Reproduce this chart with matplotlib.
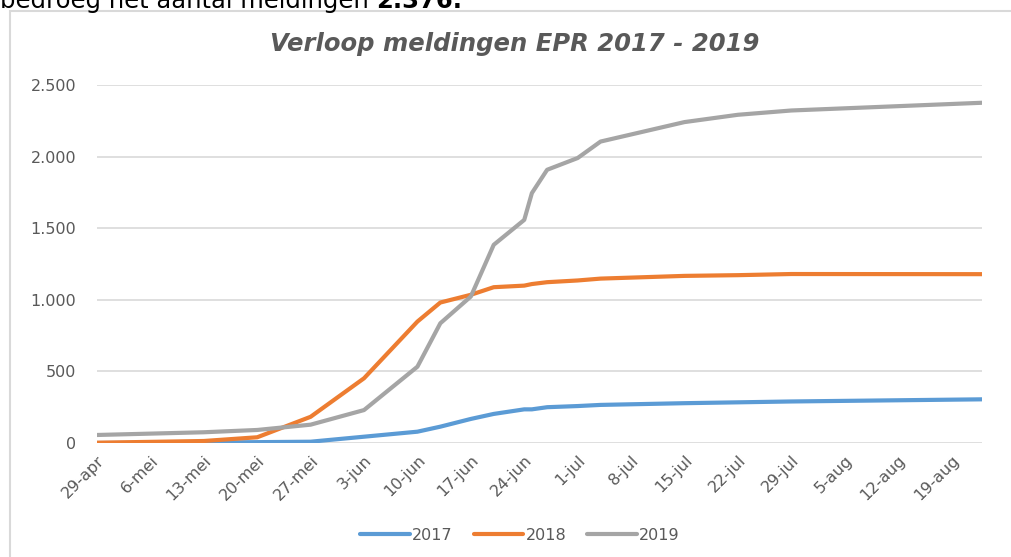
import numpy as np
import pandas as pd
import matplotlib
matplotlib.use('Agg')
import matplotlib.pyplot as plt

plt.rcParams['font.family'] = ['DejaVu Sans']

# Data
datums = ['2019-04-29', '2019-05-13', '2019-05-20', '2019-05-27', '2019-06-03',
          '2019-06-10', '2019-06-13', '2019-06-17', '2019-06-20', '2019-06-24',
          '2019-06-25', '2019-06-27', '2019-07-01', '2019-07-04', '2019-07-15',
          '2019-07-22', '2019-07-29', '2019-08-23']
m2017 = [0, 3, 6, 9, 44, 79, 114, 168, 203, 235, 235, 250, 258, 266, 278, 284, 290, 305]
m2018 = [2, 14, 40, 183, 452, 848, 981, 1035, 1088, 1099, 1110, 1123, 1135, 1148, 1167, 1172, 1180, 1179]
m2019 = [56, 75, 91, 128, 230, 533, 836, 1023, 1384, 1558, 1745, 1908, 1990, 2105, 2241, 2292, 2322, 2376]

tick_labels = ['29-apr', '6-mei', '13-mei', '20-mei', '27-mei', '3-jun', '10-jun', '17-jun',
               '24-jun', '1-jul', '8-jul', '15-jul', '22-jul', '29-jul', '5-aug', '12-aug', '19-aug']
y_ticks = [0, 500, 1000, 1500, 2000, 2500]
y_labels = ['0', '500', '1.000', '1.500', '2.000', '2.500']

x = pd.to_datetime(datums)
tick_pos = pd.date_range('2019-04-29', periods=len(tick_labels), freq='7D')

txt = '#595959'
grid = '#d9d9d9'

fig = plt.figure(figsize=(10.11, 5.57), dpi=100)
ax = fig.add_axes([97/1011, 1-443/557, (982-97)/1011, (443-85)/557])

ax.plot(x, m2017, color='#5B9BD5', lw=3, label='2017', solid_capstyle='round')
ax.plot(x, m2018, color='#ED7D31', lw=3, label='2018', solid_capstyle='round')
ax.plot(x, m2019, color='#A5A5A5', lw=3, label='2019', solid_capstyle='round')

ax.set_xlim(x[0], x[-1])
ax.set_ylim(0, 2500)
ax.set_yticks(y_ticks)
ax.set_yticklabels(y_labels)
ax.set_xticks(tick_pos)
ax.set_xticklabels(tick_labels, rotation=45, ha='right', rotation_mode='anchor')
ax.tick_params(length=0, colors=txt, labelsize=11.5)
ax.tick_params(axis='y', pad=15)
ax.tick_params(axis='x', pad=7)
ax.grid(axis='y', color=grid, lw=1.2)
ax.set_axisbelow(True)
for s in ax.spines.values():
    s.set_visible(False)

fig.text(515/1011, 1-44/557, 'Verloop meldingen EPR 2017 - 2019', ha='center', va='center',
         fontsize=17.5, fontweight='bold', fontstyle='italic', color=txt)

fig.legend(loc='center', bbox_to_anchor=(520/1011, 1-535/557), ncol=3, frameon=False,
           handlelength=3.1, fontsize=11.5, labelcolor=txt, columnspacing=1.3, handletextpad=0.15)

# kader rond de grafiek
fig.add_artist(plt.Rectangle((10/1011, -0.05), 1.0, 1-11/557+0.05, transform=fig.transFigure,
                             fill=False, ec=grid, lw=1.5))

# afgesneden tekst bovenaan (zoals in het origineel)
t1 = fig.text(0, 1-8/557, 'bedroeg het aantal meldingen ', va='baseline', fontsize=17.5, color='black')
ax.annotate('2.376.', xy=(1, 0), xycoords=t1, va='bottom', ha='left',
            fontsize=17.5, fontweight='bold', color='black', annotation_clip=False)

fig.savefig('out.png', dpi=100)
